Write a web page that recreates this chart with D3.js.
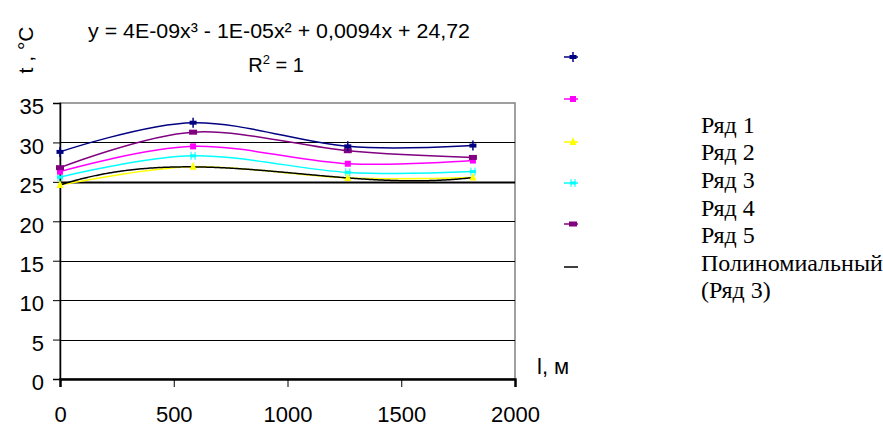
<!DOCTYPE html>
<html><head><meta charset="utf-8">
<script src="https://cdn.jsdelivr.net/npm/d3@7/dist/d3.min.js"></script>
<style>
html,body{margin:0;padding:0;background:#fff;}
svg{display:block;}
</style></head>
<body>
<svg id="chart" width="883" height="426"></svg>
<script>
// ---- data ----
const xValues = [0, 585, 1265, 1815];
const seriesNames = ["Ряд 1", "Ряд 2", "Ряд 3", "Ряд 4", "Ряд 5"];
const row1 = [28.8, 32.5, 29.5, 29.6];
const row2 = [26.3, 29.5, 27.3, 27.7];
const row3 = [24.6, 26.9, 25.5, 25.55];
const row4 = [25.6, 28.3, 26.2, 26.3];
const row5 = [26.8, 31.3, 28.95, 28.1];
const seriesColors = ["#000080", "#FF00FF", "#FFFF00", "#00FFFF", "#800080"];
const markerKinds = ["plus", "square", "triangle", "xmark", "rect"];
const xTicks = [0, 500, 1000, 1500, 2000];
const yTicks = [0, 5, 10, 15, 20, 25, 30, 35];
const trendLabel = ["Полиномиальный", "(Ряд 3)"];
const equationText = "y = 4E-09x³ - 1E-05x² + 0,0094x + 24,72";

const series = [row1, row2, row3, row4, row5].map((vals, i) => ({
  name: seriesNames[i], color: seriesColors[i], marker: markerKinds[i],
  points: xValues.map((x, j) => ({x, y: vals[j]}))
}));

const svg = d3.select("#chart");
const x = d3.scaleLinear().domain([0, 2000]).range([60, 515]);
const y = d3.scaleLinear().domain([0, 35]).range([379, 103]);

// plot border (gray)
svg.append("rect").attr("x", x(0)).attr("y", y(35)).attr("width", x(2000) - x(0)).attr("height", y(0) - y(35))
  .attr("fill", "none").attr("stroke", "#808080").attr("stroke-width", 1.5);

// gridlines
svg.append("g").selectAll("line").data(yTicks.filter(t => t > 0 && t < 35)).join("line")
  .attr("x1", x(0)).attr("x2", x(2000))
  .attr("y1", d => Math.round(y(d)) + 0.5).attr("y2", d => Math.round(y(d)) + 0.5)
  .attr("stroke", "#000").attr("stroke-width", d => d === 25 ? 2 : 1);

const tickFont = "'Liberation Sans', Arial, sans-serif";

// y axis
const yAxis = svg.append("g").attr("transform", `translate(${x(0)},0)`)
  .call(d3.axisLeft(y).tickValues(yTicks).tickSize(7).tickPadding(9).tickFormat(d3.format("d")));
yAxis.select(".domain").attr("stroke", "#000").attr("stroke-width", 1.5);
yAxis.selectAll(".tick line").attr("stroke", "#000");
yAxis.selectAll("text").attr("font-family", tickFont).attr("font-size", 22).attr("fill", "#000").attr("dy", "0.49em");

// x axis
const xAxis = svg.append("g").attr("transform", `translate(0,${y(0)})`)
  .call(d3.axisBottom(x).tickValues(xTicks).tickSize(8).tickPadding(35).tickFormat(d3.format("d")));
xAxis.select(".domain").attr("stroke", "#000").attr("stroke-width", 2.5);
xAxis.selectAll(".tick line").attr("stroke", "#000");
xAxis.selectAll("text").attr("font-family", tickFont).attr("font-size", 22).attr("fill", "#000").attr("dy", "0");

// trendline: cubic least-squares fit of Ряд 3
function polyFit(xs, ys, deg) {
  const n = deg + 1;
  const A = Array.from({length: n}, () => new Array(n + 1).fill(0));
  for (let r = 0; r < n; r++) {
    for (let c = 0; c < n; c++) A[r][c] = d3.sum(xs, xv => Math.pow(xv / 1000, r + c));
    A[r][n] = d3.sum(xs, (xv, k) => ys[k] * Math.pow(xv / 1000, r));
  }
  for (let i = 0; i < n; i++) {
    let p = i;
    for (let k = i + 1; k < n; k++) if (Math.abs(A[k][i]) > Math.abs(A[p][i])) p = k;
    [A[i], A[p]] = [A[p], A[i]];
    for (let k = 0; k < n; k++) {
      if (k === i) continue;
      const f = A[k][i] / A[i][i];
      for (let c = i; c <= n; c++) A[k][c] -= f * A[i][c];
    }
  }
  const coef = A.map((row, i) => row[n] / row[i]);
  return xv => coef.reduce((s, c, i) => s + c * Math.pow(xv / 1000, i), 0);
}
const trendFn = polyFit(xValues, row3, 3);
const trendPts = d3.range(0, xValues[xValues.length - 1] + 1, 5).map(xv => ({x: xv, y: trendFn(xv)}));

const line = d3.line().x(d => x(d.x)).y(d => y(d.y));
const smooth = d3.line().x(d => x(d.x)).y(d => y(d.y)).curve(d3.curveCardinal.tension(0));

// series lines
const drawOrder = [2, 3, 1, 4, 0];
drawOrder.forEach(i => {
  const s = series[i];
  svg.append("path").datum(s.points).attr("d", smooth).attr("fill", "none")
    .attr("stroke", s.color).attr("stroke-width", 1.5);
});
svg.append("path").datum(trendPts).attr("d", line).attr("fill", "none").attr("stroke", "#000").attr("stroke-width", 1.5);

function drawMarker(g, kind, cx, cy, color) {
  if (kind === "plus") {
    g.append("rect").attr("x", cx - 3.5).attr("y", cy - 2).attr("width", 7).attr("height", 4).attr("fill", color);
    g.append("line").attr("x1", cx).attr("x2", cx).attr("y1", cy - 5).attr("y2", cy + 5).attr("stroke", color).attr("stroke-width", 1.5);
  } else if (kind === "square") {
    g.append("rect").attr("x", cx - 3).attr("y", cy - 3).attr("width", 6).attr("height", 6).attr("fill", color);
  } else if (kind === "triangle") {
    g.append("path").attr("d", `M${cx},${cy - 5}L${cx + 3.5},${cy + 3}L${cx - 3.5},${cy + 3}Z`).attr("fill", color);
  } else if (kind === "xmark") {
    g.append("rect").attr("x", cx - 3).attr("y", cy - 1.5).attr("width", 6).attr("height", 3).attr("fill", color);
    g.append("line").attr("x1", cx - 2).attr("x2", cx - 2).attr("y1", cy - 4).attr("y2", cy + 4).attr("stroke", color).attr("stroke-width", 1);
    g.append("line").attr("x1", cx + 2).attr("x2", cx + 2).attr("y1", cy - 4).attr("y2", cy + 4).attr("stroke", color).attr("stroke-width", 1);
  } else {
    g.append("rect").attr("x", cx - 4).attr("y", cy - 2.5).attr("width", 8).attr("height", 5).attr("fill", color);
  }
}
drawOrder.forEach(i => {
  const s = series[i];
  const g = svg.append("g");
  s.points.forEach(p => drawMarker(g, s.marker, x(p.x), y(p.y), s.color));
});

// equation
svg.append("text").attr("x", 279).attr("y", 38).attr("text-anchor", "middle")
  .attr("font-family", tickFont).attr("font-size", 20)
  .attr("textLength", 382).attr("lengthAdjust", "spacingAndGlyphs")
  .text(equationText);
const r2 = svg.append("text").attr("x", 276).attr("y", 72).attr("text-anchor", "middle")
  .attr("font-family", tickFont).attr("font-size", 20);
r2.append("tspan").text("R");
r2.append("tspan").attr("font-size", 13).attr("dy", -8).text("2");
r2.append("tspan").attr("dy", 8).text(" = 1");

// axis titles
svg.append("text").attr("transform", "translate(33,50) rotate(-90)").attr("text-anchor", "middle")
  .attr("font-family", tickFont).attr("font-size", 21).text("t , °C");
svg.append("text").attr("x", 537).attr("y", 374)
  .attr("font-family", tickFont).attr("font-size", 22).text("l, м");

// legend
const legendY = [57, 99, 142, 183, 224];
const lg = svg.append("g");
series.forEach((s, i) => {
  lg.append("line").attr("x1", 564).attr("x2", 578).attr("y1", legendY[i]).attr("y2", legendY[i])
    .attr("stroke", s.color).attr("stroke-width", 1.5);
  drawMarker(lg, s.marker, 573, legendY[i], s.color);
});
lg.append("line").attr("x1", 564).attr("x2", 578).attr("y1", 267).attr("y2", 267).attr("stroke", "#000").attr("stroke-width", 1.5);

const legendLabels = seriesNames.concat(trendLabel);
svg.append("g").selectAll("text").data(legendLabels).join("text")
  .attr("x", 701).attr("y", (d, i) => 132.7 + i * 27.6)
  .attr("font-family", "'Liberation Serif', 'Times New Roman', serif").attr("font-size", 24)
  .attr("fill", "#000").text(d => d);
</script>
</body></html>
